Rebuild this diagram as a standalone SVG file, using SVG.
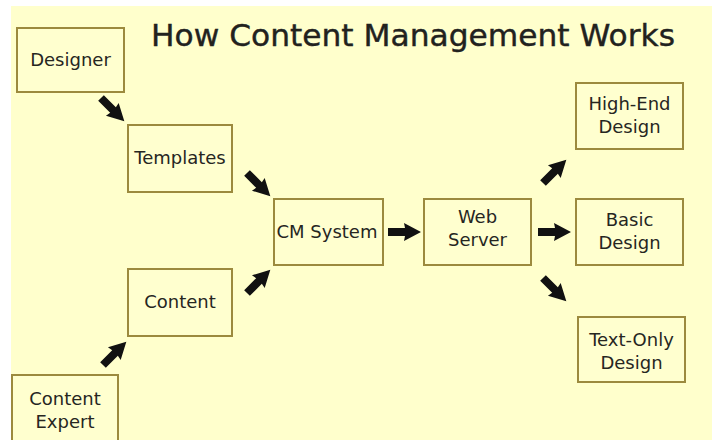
<svg xmlns="http://www.w3.org/2000/svg" xmlns:xlink="http://www.w3.org/1999/xlink" width="712" height="440" viewBox="0 0 712 440">
<defs>
<style>
.box{fill:#FFFFCF;stroke:#9C8A3E;stroke-width:2}
.lbl{font-family:"DejaVu Sans",Verdana,sans-serif;font-size:18px;fill:#26261f;text-anchor:middle}
.title{font-family:"DejaVu Sans",Verdana,sans-serif;font-size:31px;fill:#22221e;stroke:#22221e;stroke-width:0.4}
.arr{fill:#111}
</style>
<path id="arrow" class="arr" d="M0,-4 L17,-4 L16,-9 L33,0 L16,9 L17,4 L0,4 Z"/>
</defs>
<rect x="0" y="0" width="712" height="440" fill="#ffffff"/>
<rect x="11" y="6" width="701" height="434" fill="#FFFFCC"/>
<text class="title" x="151" y="46" textLength="524" lengthAdjust="spacingAndGlyphs">How Content Management Works</text>
<g id="designer"><rect class="box" x="17" y="28" width="107" height="64"/><text class="lbl" x="70.5" y="66">Designer</text></g>
<g id="templates"><rect class="box" x="128" y="125" width="104" height="67"/><text class="lbl" x="180" y="164">Templates</text></g>
<g id="content"><rect class="box" x="128" y="269" width="104" height="67"/><text class="lbl" x="180" y="308">Content</text></g>
<g id="content-expert"><rect class="box" x="12" y="375" width="106" height="70"/><text class="lbl" x="65" y="405">Content</text><text class="lbl" x="65" y="428">Expert</text></g>
<g id="cm-system"><rect class="box" x="274" y="199" width="109" height="66"/><text class="lbl" x="327" y="238">CM System</text></g>
<g id="web-server"><rect class="box" x="424" y="199" width="107" height="66"/><text class="lbl" x="477.5" y="223">Web</text><text class="lbl" x="477.5" y="246">Server</text></g>
<g id="high-end"><rect class="box" x="576" y="83" width="107" height="66"/><text class="lbl" x="629.5" y="110">High-End</text><text class="lbl" x="629.5" y="133">Design</text></g>
<g id="basic"><rect class="box" x="576" y="199" width="107" height="66"/><text class="lbl" x="629.5" y="226">Basic</text><text class="lbl" x="629.5" y="249">Design</text></g>
<g id="text-only"><rect class="box" x="578" y="317" width="107" height="65"/><text class="lbl" x="631.5" y="346">Text-Only</text><text class="lbl" x="631.5" y="369">Design</text></g>
<g id="connectors">
<use xlink:href="#arrow" transform="translate(101,98) rotate(45)"/>
<use xlink:href="#arrow" transform="translate(247,173) rotate(45)"/>
<use xlink:href="#arrow" transform="translate(247,293) rotate(-45)"/>
<use xlink:href="#arrow" transform="translate(103,365) rotate(-45)"/>
<use xlink:href="#arrow" transform="translate(388,232)"/>
<use xlink:href="#arrow" transform="translate(538,232)"/>
<use xlink:href="#arrow" transform="translate(543,183) rotate(-45)"/>
<use xlink:href="#arrow" transform="translate(543,278) rotate(45)"/>
</g>
</svg>
